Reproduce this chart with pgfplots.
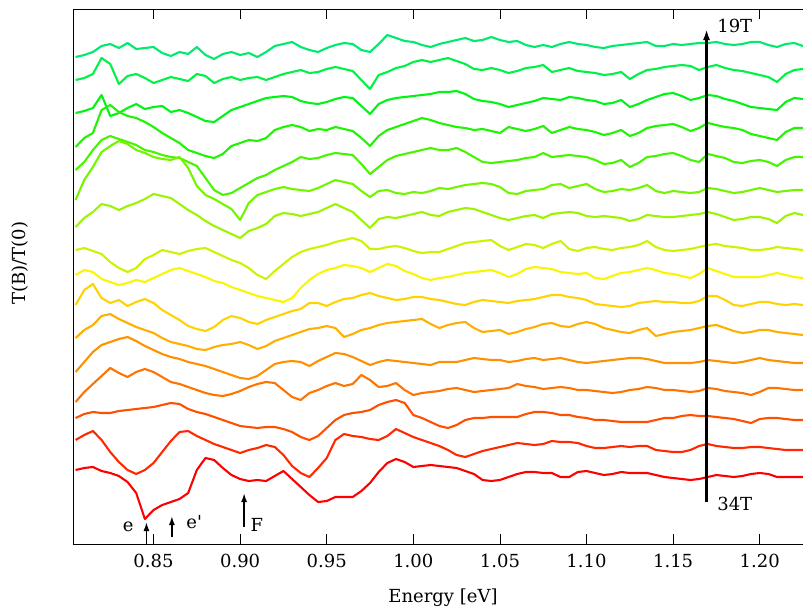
\documentclass[border=0pt]{standalone}
\usepackage{fontspec}
\setmainfont{DejaVu Serif}
\usepackage{pgfplots}
\usepackage{pgfplotstable}
\pgfplotsset{compat=1.18}
\usetikzlibrary{arrows.meta}

\definecolor{c1}{RGB}{0,235,110}
\definecolor{c2}{RGB}{0,242,70}
\definecolor{c3}{RGB}{0,245,20}
\definecolor{c4}{RGB}{30,245,0}
\definecolor{c5}{RGB}{70,245,0}
\definecolor{c6}{RGB}{115,245,0}
\definecolor{c7}{RGB}{155,245,0}
\definecolor{c8}{RGB}{200,245,0}
\definecolor{c9}{RGB}{250,245,0}
\definecolor{c10}{RGB}{255,210,0}
\definecolor{c11}{RGB}{255,175,0}
\definecolor{c12}{RGB}{255,145,0}
\definecolor{c13}{RGB}{255,115,0}
\definecolor{c14}{RGB}{255,80,0}
\definecolor{c15}{RGB}{255,40,0}
\definecolor{c16}{RGB}{255,0,0}

\pgfplotstableread{
x c1 c2 c3 c4 c5 c6 c7 c8 c9 c10 c11 c12 c13 c14 c15 c16
0.805 57 80 113 147 170 200 227 250 275 305 338 372 402 418 440 470
0.810 55 78 111 138 162 180 218 248 270 290 330 362 392 414 435 468
0.815 52 74 108 133 150 167 212 251 272 284 325 352 384 412 431 467
0.820 46 58 95 110 140 152 204 254 279 298 316 345 376 413 440 471
0.825 44 64 116 105 136 146 206 262 282 303 314 342 368 413 452 473
0.830 48 84 113 112 139 141 210 268 285 300 319 339 373 411 462 476
0.835 43 76 108 116 142 144 206 272 283 306 323 337 377 410 470 482
0.840 49 74 104 118 145 150 203 268 280 302 327 341 372 409 474 493
0.845 48 78 109 122 150 153 199 259 282 299 330 346 369 408 470 519
0.850 47 83 107 127 152 157 194 255 278 303 333 350 372 407 463 510
0.855 53 80 106 133 155 159 196 250 274 310 338 354 377 405 452 505
0.860 56 77 112 138 157 160 198 252 270 315 342 357 382 403 441 502
0.865 52 79 110 143 158 157 204 254 268 320 344 359 384 404 432 499
0.870 54 81 113 150 162 168 210 251 271 326 346 362 387 409 431 493
0.875 47 74 117 153 166 186 215 249 274 329 349 364 390 412 436 470
0.880 55 76 121 156 178 195 221 248 277 331 350 366 393 414 440 458
0.885 59 83 122 158 190 199 226 252 281 327 347 369 395 417 444 460
0.890 54 79 116 154 195 204 230 256 283 320 345 372 396 420 447 468
0.895 52 77 110 146 193 209 234 260 287 316 344 375 394 423 450 475
0.900 55 80 107 143 188 220 238 263 290 318 342 378 391 426 453 479
0.905 53 78 104 140 183 203 231 268 293 322 345 379 387 427 450 481
0.910 57 77 101 141 178 195 228 275 296 324 349 376 384 428 448 480
0.915 52 80 98 138 175 192 224 279 298 320 346 370 382 427 445 481
0.920 46 77 97 130 170 189 216 271 300 317 341 364 383 427 447 476
0.925 44 74 96 127 166 187 213 264 302 314 338 362 390 429 455 471
0.930 42 72 97 125 162 189 214 257 298 311 335 361 397 432 466 479
0.935 47 70 101 127 157 190 216 252 288 309 332 362 400 437 473 487
0.940 50 73 103 131 159 191 214 249 280 303 329 366 393 440 477 495
0.945 52 72 104 129 158 188 212 247 274 303 328 361 390 436 468 502
0.950 48 69 102 130 155 184 208 245 270 306 326 357 386 428 458 501
0.955 45 67 99 127 153 180 204 242 268 302 328 353 383 420 440 497
0.960 43 69 97 129 154 182 208 240 265 299 337 354 386 415 434 497
0.965 44 71 98 131 155 184 212 238 266 298 334 357 384 413 436 497
0.970 50 80 106 138 164 191 220 241 268 295 330 361 375 412 437 491
0.975 52 89 114 146 174 197 228 249 272 293 328 365 380 410 439 483
0.980 44 75 104 136 167 191 219 249 268 296 325 362 387 405 440 472
0.985 35 72 100 130 160 190 217 247 264 298 323 360 386 402 436 463
0.990 38 68 98 127 156 193 218 246 266 300 322 361 383 400 429 459
0.995 41 66 97 124 154 194 216 248 271 299 321 362 390 403 433 462
1.000 42 62 96 121 152 192 214 251 274 297 320 363 395 415 437 467
1.005 45 60 95 118 150 193 212 253 278 297 319 364 393 418 440 466
1.010 47 62 94 120 148 191 215 252 280 299 324 365 392 422 443 465
1.015 44 60 92 123 150 188 216 252 278 300 328 362 391 426 446 466
1.020 42 58 92 125 150 189 212 249 277 302 325 362 389 428 450 467
1.025 40 61 91 127 148 187 210 246 275 304 323 362 388 425 455 468
1.030 38 64 94 128 152 185 208 243 273 305 322 360 390 420 457 471
1.035 41 69 99 130 157 184 209 242 272 302 328 358 392 418 454 474
1.040 40 70 101 129 162 183 212 241 271 300 332 359 391 418 451 480
1.045 37 68 102 131 163 184 215 240 270 301 331 360 390 417 449 481
1.050 40 70 104 133 162 187 218 246 273 302 330 360 389 417 447 480
1.055 42 73 107 127 161 193 220 250 277 303 334 362 388 417 445 477
1.060 41 71 105 129 160 194 218 247 274 301 332 361 384 417 443 474
1.065 45 68 103 131 158 191 216 244 269 300 329 359 386 414 444 472
1.070 47 67 101 129 157 190 215 245 267 299 327 358 387 412 445 472
1.075 45 65 98 126 153 189 218 248 268 297 324 360 389 412 444 473
1.080 47 72 99 133 157 185 214 244 269 295 323 359 388 413 441 473
1.085 44 70 100 130 156 184 213 241 272 295 326 358 387 415 442 477
1.090 42 68 97 127 155 188 212 249 273 297 327 360 388 415 442 477
1.095 44 71 98 129 156 186 213 251 274 298 324 362 390 417 443 472
1.100 45 72 100 130 157 184 216 248 273 300 322 363 390 418 446 471
1.105 47 73 101 132 160 189 217 247 278 304 324 362 391 420 448 473
1.110 48 75 104 135 164 192 216 249 279 305 328 361 392 420 448 475
1.115 46 74 103 133 163 191 217 250 276 306 330 360 393 421 447 474
1.120 45 72 100 130 160 189 218 248 273 307 332 359 392 422 446 472
1.125 44 79 107 136 167 190 221 247 272 306 333 358 390 422 447 473
1.130 43 74 104 133 163 188 219 245 270 303 330 358 389 422 446 473
1.135 42 70 100 128 157 185 215 241 268 302 328 359 387 422 446 473
1.140 46 69 97 126 156 191 216 247 270 301 336 361 388 420 450 475
1.145 46 67 94 125 154 193 217 250 273 302 334 363 390 418 451 477
1.150 44 66 93 124 153 191 217 251 274 302 332 363 390 418 452 478
1.155 45 65 96 127 156 192 216 250 276 303 331 363 391 416 452 479
1.160 44 66 100 131 160 193 215 249 278 303 330 363 392 415 450 480
1.165 43 70 98 128 162 192 214 247 274 301 328 362 391 416 446 479
1.170 43 67 95 123 154 188 212 245 268 296 326 360 388 416 444 477
1.175 42 65 96 125 156 189 214 244 271 296 325 361 389 417 446 475
1.180 44 68 99 127 158 191 217 246 274 300 328 362 391 418 447 476
1.185 45 70 101 128 162 193 220 247 277 305 331 363 392 419 448 477
1.190 44 71 104 130 163 192 219 248 277 306 333 362 393 421 448 476
1.195 42 73 107 134 161 190 217 250 277 304 332 360 395 423 447 474
1.200 42 75 108 136 160 188 217 250 277 302 330 358 392 419 447 473
1.205 45 77 109 138 162 190 219 249 275 302 330 360 388 418 448 474
1.210 47 82 110 140 166 192 223 247 273 304 332 361 388 418 449 477
1.215 44 74 102 132 160 191 216 248 275 305 333 362 389 419 450 477
1.220 43 70 98 128 157 190 213 249 277 304 334 363 390 420 450 477
1.225 46 69 99 128 157 190 215 250 278 305 335 363 390 420 450 477
}\spectra

\begin{document}
\begin{tikzpicture}
\useasboundingbox (-73pt,-66pt) rectangle (730pt,544pt);
\begin{axis}[
  at={(0pt,0pt)}, anchor=south west,
  width=730pt, height=535pt, scale only axis,
  xmin=0.8035, xmax=1.225, ymin=9, ymax=544, y dir=reverse,
  ytick=\empty,
  xtick={0.85,0.9,0.95,1,1.05,1.1,1.15,1.2},
  xticklabels={0.85,0.90,0.95,1.00,1.05,1.10,1.15,1.20},
  xtick pos=both, tick align=inside,
  major tick length=10pt,
  tick style={black, line width=0.8pt},
  axis line style={black, line width=0.9pt},
  xticklabel style={font=\fontsize{18}{22}\selectfont, yshift=-7pt},
  clip=true,
  every axis plot/.append style={line width=2.1pt, line join=round},
]
\addplot[color=c1] table[x=x, y=c1] {\spectra};
\addplot[color=c2] table[x=x, y=c2] {\spectra};
\addplot[color=c3] table[x=x, y=c3] {\spectra};
\addplot[color=c4] table[x=x, y=c4] {\spectra};
\addplot[color=c5] table[x=x, y=c5] {\spectra};
\addplot[color=c6] table[x=x, y=c6] {\spectra};
\addplot[color=c7] table[x=x, y=c7] {\spectra};
\addplot[color=c8] table[x=x, y=c8] {\spectra};
\addplot[color=c9] table[x=x, y=c9] {\spectra};
\addplot[color=c10] table[x=x, y=c10] {\spectra};
\addplot[color=c11] table[x=x, y=c11] {\spectra};
\addplot[color=c12] table[x=x, y=c12] {\spectra};
\addplot[color=c13] table[x=x, y=c13] {\spectra};
\addplot[color=c14] table[x=x, y=c14] {\spectra};
\addplot[color=c15] table[x=x, y=c15] {\spectra};
\addplot[color=c16] table[x=x, y=c16] {\spectra};
\draw[line width=2.4pt, -{Latex[length=11pt,width=7pt]}] (axis cs:1.1693,502) -- (axis cs:1.1693,29);
\draw[line width=1.6pt, -{Latex[length=9pt,width=6pt]}] (axis cs:0.8459,544) -- (axis cs:0.8459,522);
\draw[line width=1.6pt, -{Latex[length=9pt,width=6pt]}] (axis cs:0.8606,537) -- (axis cs:0.8606,516);
\draw[line width=1.6pt, -{Latex[length=9pt,width=6pt]}] (axis cs:0.9023,527) -- (axis cs:0.9023,493);
\node[font=\fontsize{18}{22}\selectfont] at (axis cs:1.1856,26) {19T};
\node[font=\fontsize{18}{22}\selectfont] at (axis cs:1.1856,504) {34T};
\node[font=\fontsize{18}{22}\selectfont] at (axis cs:0.8354,527) {e};
\node[font=\fontsize{18}{22}\selectfont] at (axis cs:0.8735,522) {e\textquotesingle};
\node[font=\fontsize{18}{22}\selectfont] at (axis cs:0.9097,525) {F};
\end{axis}
\node[font=\fontsize{18}{22}\selectfont] at (370pt,-54pt) {Energy [eV]};
\node[font=\fontsize{18}{22}\selectfont, rotate=90] at (-53pt,281pt) {T(B)/T(0)};
\end{tikzpicture}
\end{document}
